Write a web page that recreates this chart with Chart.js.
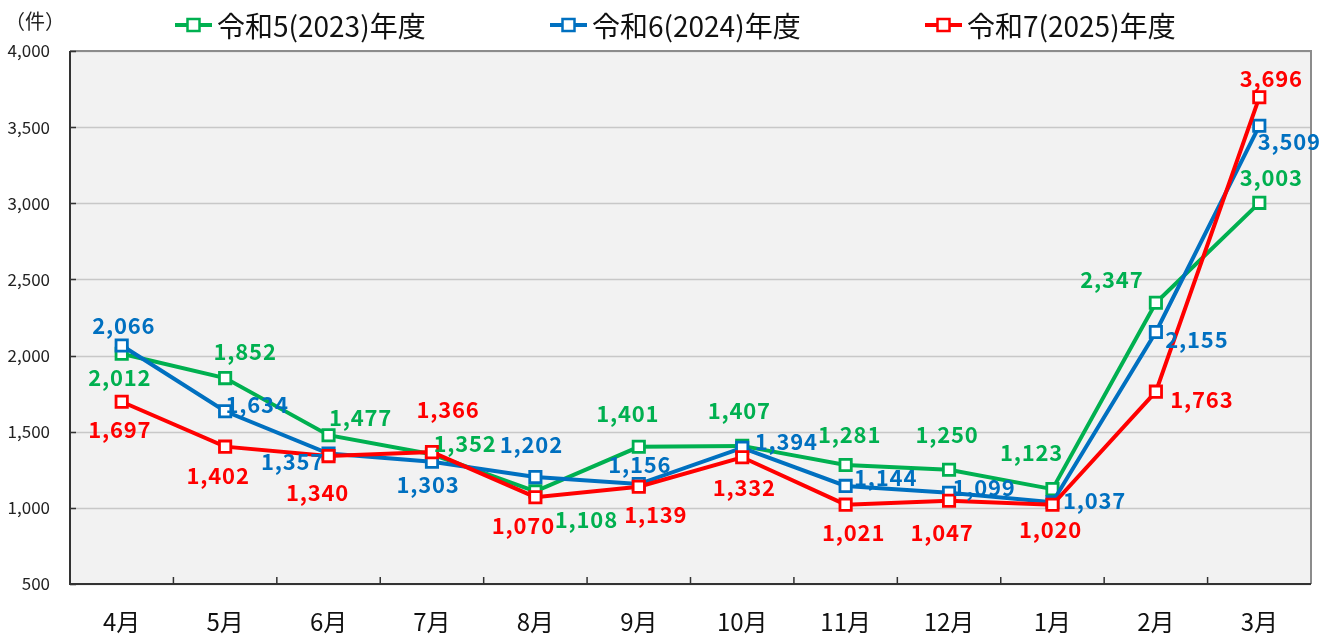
<!DOCTYPE html>
<html><head><meta charset="utf-8">
<script src="https://cdn.jsdelivr.net/npm/chart.js@4/dist/chart.umd.min.js"></script>
<style>html,body{margin:0;padding:0;background:#fff}#wrap{width:1335px;height:641px;position:relative}</style>
</head><body><div id="wrap"><canvas id="c" width="1335" height="641"></canvas></div>
<script>
const months = ['4月','5月','6月','7月','8月','9月','10月','11月','12月','1月','2月','3月'];
const seriesNames = ['令和5(2023)年度','令和6(2024)年度','令和7(2025)年度'];
const r5 = [2012,1852,1477,1352,1108,1401,1407,1281,1250,1123,2347,3003];
const r6 = [2066,1634,1357,1303,1202,1156,1394,1144,1099,1037,2155,3509];
const r7 = [1697,1402,1340,1366,1070,1139,1332,1021,1047,1020,1763,3696];
const yTicks = [500,1000,1500,2000,2500,3000,3500,4000];
const unitLabel = '（件）';

const colors = ['#00b050','#0070c0','#ff0000'];
// label offsets (dx,dy) relative to each point, per series
const off5 = [[-2,24],[20,-26],[32,-18],[33,-11],[51,28],[-11,-33],[-3,-35],[4,-30],[-2,-35],[-21,-36],[-44,-23],[12,-25]];
const off6 = [[2,-20],[32,-7],[-36,8],[-4,23],[-4,-32],[1,-19],[44,-6],[40,-8],[35,-5],[42,-2],[41,8],[30,16]];
const off7 = [[-2,28],[-7,29],[-11,37],[16,-42],[-12,28],[17,28],[2,30],[8,28],[-7,32],[-2,25],[46,8],[12,-19]];

const F = '"Noto Sans CJK JP", "Noto Sans", sans-serif';

const labelPlugin = {
  id:'labels',
  beforeDatasetsDraw(chart){
    const {ctx, chartArea:a} = chart;
    ctx.save();
    ctx.fillStyle='#f2f2f2';
    ctx.fillRect(a.left,a.top,a.right-a.left,a.bottom-a.top);
    ctx.strokeStyle='#c8c8c8'; ctx.lineWidth=1.5;
    const ys = chart.scales.y;
    yTicks.forEach(v=>{const y=Math.round(ys.getPixelForValue(v))+0.5; ctx.beginPath(); ctx.moveTo(a.left,y); ctx.lineTo(a.right,y); ctx.stroke();});
    ctx.restore();
  },
  afterDraw(chart){
    const {ctx, chartArea:a} = chart;
    const ys = chart.scales.y;
    ctx.save();
    ctx.strokeStyle='#8c8c8c'; ctx.lineWidth=2;
    ctx.beginPath(); ctx.moveTo(a.left,a.top); ctx.lineTo(a.right,a.top); ctx.lineTo(a.right,a.bottom); ctx.stroke();
    ctx.strokeStyle='#333'; ctx.lineWidth=2;
    ctx.beginPath(); ctx.moveTo(a.left,a.top); ctx.lineTo(a.left,a.bottom); ctx.lineTo(a.right,a.bottom); ctx.stroke();
    ctx.lineWidth=1.5;
    yTicks.forEach(v=>{const y=Math.round(ys.getPixelForValue(v))+0.5; ctx.beginPath(); ctx.moveTo(a.left,y); ctx.lineTo(a.left+6,y); ctx.stroke();});
    const step=(a.right-a.left)/months.length;
    for(let i=1;i<months.length;i++){const x=a.left+step*i; ctx.beginPath(); ctx.moveTo(x,a.bottom); ctx.lineTo(x,a.bottom-7); ctx.stroke();}
    // data labels
    const offs=[off5,off6,off7];
    ctx.font='bold 22px '+F; ctx.textAlign='center'; ctx.textBaseline='middle';
    ctx.letterSpacing='0.8px';
    chart.data.datasets.forEach((ds,di)=>{
      const meta=chart.getDatasetMeta(di);
      ctx.fillStyle=ds.borderColor;
      meta.data.forEach((pt,i)=>{
        const o=offs[di][i];
        ctx.fillText(ds.data[i].toLocaleString('en-US'), pt.x+o[0], pt.y+o[1]);
      });
    });
    ctx.letterSpacing='0px';
    ctx.fillStyle='#222'; ctx.font='20px '+F; ctx.textAlign='center';
    ctx.fillText(unitLabel, 35, 21);
    const lx=[175,550,925], ly=25;
    seriesNames.forEach((n,i)=>{
      const x=lx[i];
      ctx.strokeStyle=colors[i]; ctx.lineWidth=4;
      ctx.beginPath(); ctx.moveTo(x,ly); ctx.lineTo(x+37,ly); ctx.stroke();
      ctx.fillStyle='#fff'; ctx.lineWidth=2.5;
      ctx.fillRect(x+12.5,ly-6,12,12); ctx.strokeRect(x+12.5,ly-6,12,12);
      ctx.fillStyle='#111'; ctx.font='28px '+F; ctx.textAlign='left';
      ctx.fillText(n, x+42, ly+1);
    });
    ctx.restore();
  }
};

const mk=(i,data,order)=>({label:seriesNames[i],data,borderColor:colors[i],backgroundColor:'#fff',
  borderWidth:4,pointStyle:'rect',pointRadius:8,pointHoverRadius:8,pointBorderWidth:2.8,
  pointBackgroundColor:'#fff',pointBorderColor:colors[i],tension:0,order});

new Chart(document.getElementById('c'),{
  type:'line',
  data:{labels:months,datasets:[mk(0,r5,3),mk(1,r6,2),mk(2,r7,1)]},
  options:{
    responsive:false,animation:false,
    layout:{padding:{top:51,right:24,left:0,bottom:0}},
    plugins:{legend:{display:false},tooltip:{enabled:false}},
    scales:{
      x:{offset:true,grid:{display:false,drawTicks:false},border:{display:false},
        ticks:{color:'#111',font:{family:F,size:24},padding:23},
        afterFit(s){s.height=57;}},
      y:{min:500,max:4000,afterBuildTicks(s){s.ticks=yTicks.map(v=>({value:v}));},
        grid:{display:false,drawTicks:false},border:{display:false},
        ticks:{color:'#222',font:{family:F,size:17},padding:20,callback:v=>v.toLocaleString('en-US')},
        afterFit(s){s.width=70;}}
    }
  },
  plugins:[labelPlugin]
});
</script></body></html>
